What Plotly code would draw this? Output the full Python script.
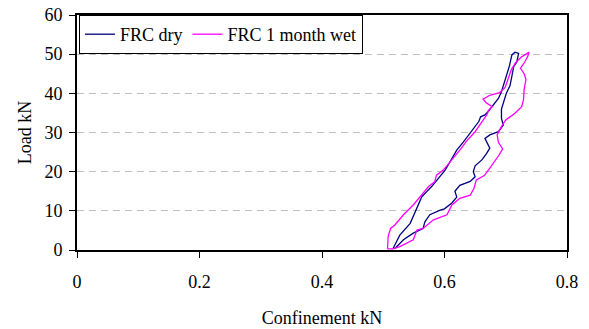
import plotly.graph_objects as go

# FRC dry (loading then unloading branch)
dry_x = [0.516, 0.527, 0.544, 0.549, 0.557, 0.563, 0.571, 0.579, 0.590, 0.601, 0.609, 0.620,
         0.631, 0.645, 0.656, 0.659, 0.666, 0.672, 0.680, 0.688, 0.693, 0.697, 0.702, 0.706,
         0.710, 0.715,
         0.721, 0.718, 0.713, 0.710, 0.707, 0.701, 0.697, 0.693, 0.693, 0.696, 0.688, 0.674,
         0.666, 0.672, 0.674, 0.668, 0.661, 0.650, 0.647, 0.650, 0.642, 0.625, 0.617, 0.620,
         0.612, 0.600, 0.593, 0.576, 0.568, 0.565, 0.549, 0.533, 0.522, 0.519]
dry_y = [0.4, 3.8, 6.8, 8.5, 11.5, 13.6, 14.9, 16.2, 18.3, 20.4, 22.5, 25.5,
         27.6, 30.5, 32.8, 34.0, 34.5, 35.5, 37.0, 38.7, 40.4, 42.5, 44.5, 47.0,
         49.8, 50.5,
         50.2, 48.0, 46.8, 44.7, 42.0, 40.0, 38.0, 36.0, 33.6, 31.9, 30.2, 29.4,
         28.5, 26.8, 26.0, 24.5, 23.0, 21.5, 20.0, 18.7, 17.5, 16.5, 15.0, 13.5,
         12.0, 10.5, 10.2, 9.0, 7.2, 5.5, 4.3, 2.6, 1.0, 0.4]

# FRC 1 month wet (loading then unloading branch)
wet_x = [0.507, 0.508, 0.512, 0.519, 0.533, 0.549, 0.565, 0.574, 0.584, 0.587, 0.598, 0.612,
         0.625, 0.637, 0.650, 0.658, 0.669, 0.672, 0.678, 0.668, 0.663, 0.674, 0.690, 0.699,
         0.704, 0.709, 0.716, 0.725, 0.733, 0.738,
         0.736, 0.731, 0.724, 0.730, 0.733, 0.730, 0.729, 0.726, 0.715, 0.700, 0.693, 0.686,
         0.688, 0.695, 0.688, 0.678, 0.674, 0.665, 0.652, 0.648, 0.642, 0.625, 0.612, 0.604,
         0.582, 0.565, 0.555, 0.549, 0.527, 0.516, 0.507]
wet_y = [0.3, 3.5, 5.5, 6.4, 9.0, 11.5, 14.5, 16.2, 17.4, 19.1, 20.4, 23.0,
         25.5, 28.0, 30.2, 32.0, 34.5, 35.7, 36.6, 37.6, 38.5, 39.5, 40.2, 41.5,
         44.0, 46.0, 47.8, 49.2, 50.0, 50.5,
         49.5, 48.0, 46.4, 45.0, 43.5, 41.0, 38.3, 36.6, 34.9, 33.2, 31.5, 29.4,
         27.5, 25.8, 24.0, 22.0, 20.9, 19.0, 17.9, 15.7, 14.0, 13.2, 11.5, 9.0,
         7.7, 5.5, 5.1, 2.6, 0.85, 0.3, 0.3]

series_names = ["FRC dry", "FRC 1 month wet"]
x_ticks = [0, 0.2, 0.4, 0.6, 0.8]
x_tick_labels = ["0", "0.2", "0.4", "0.6", "0.8"]
y_ticks = [0, 10, 20, 30, 40, 50, 60]

FONT = "Liberation Serif, Times New Roman, serif"

fig = go.Figure()
fig.add_trace(go.Scatter(x=dry_x, y=dry_y, mode="lines", name=series_names[0],
                         line=dict(color="#000080", width=1.3)))
fig.add_trace(go.Scatter(x=wet_x, y=wet_y, mode="lines", name=series_names[1],
                         line=dict(color="#FF00FF", width=1.3)))

fig.update_layout(
    width=589, height=329,
    margin=dict(l=77, r=22, t=15, b=79, autoexpand=False),
    plot_bgcolor="white", paper_bgcolor="white",
    font=dict(family=FONT, size=18, color="black"),
    showlegend=True,
    legend=dict(x=0.004, y=1.0, xanchor="left", yanchor="top",
                orientation="h", bgcolor="white", bordercolor="black", borderwidth=1,
                font=dict(family=FONT, size=18), itemwidth=30,
                tracegroupgap=0),
    xaxis=dict(range=[0, 0.8], tickvals=x_ticks, ticktext=x_tick_labels,
               showgrid=False, zeroline=False, automargin=False,
               showline=True, linecolor="black", linewidth=2, mirror=True,
               ticks="outside", ticklen=6, tickcolor="black", tickwidth=1,
               ticklabelstandoff=8,
               tickfont=dict(family=FONT, size=18),
               title=dict(text="Confinement kN", font=dict(family=FONT, size=18), standoff=21)),
    yaxis=dict(range=[0, 60], tickvals=y_ticks,
               showgrid=True, gridcolor="#c0c0c0", griddash="7px,5px", gridwidth=1,
               zeroline=False, automargin=False,
               showline=True, linecolor="black", linewidth=2, mirror=True,
               ticks="outside", ticklen=6, tickcolor="black", tickwidth=1,
               ticklabelstandoff=3,
               tickfont=dict(family=FONT, size=18),
               title=dict(text="Load kN", font=dict(family=FONT, size=18), standoff=8)),
    xaxis2=dict(overlaying="x", matches="x", anchor="y", side="bottom",
                range=[0, 0.8], tickvals=x_ticks, showticklabels=False,
                ticks="inside", ticklen=6, tickcolor="black", tickwidth=1,
                showgrid=False, zeroline=False, showline=False, automargin=False),
)

fig.write_html("out.html")
